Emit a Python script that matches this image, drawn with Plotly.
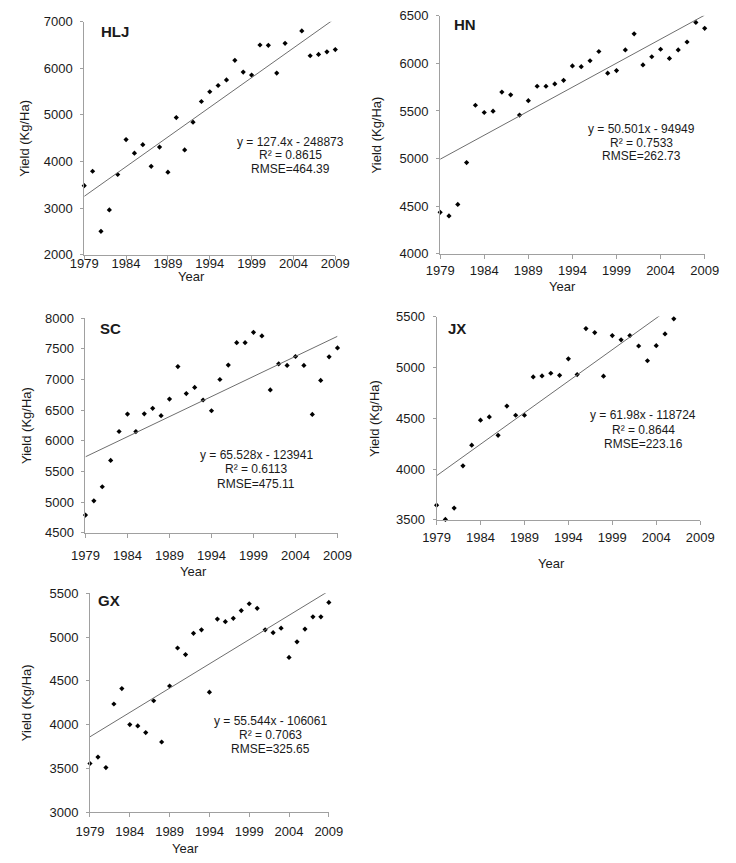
import plotly.graph_objects as go

W, H = 736, 863

years = list(range(1979, 2010))

hlj_years = [y for y in years if y != 2004]
hlj_yield = [3480, 3790, 2500, 2960, 3720, 4470, 4177, 4360, 3896, 4310, 3770, 4942, 4247, 4844,
             5287, 5497, 5631, 5750, 6171, 5919, 5855, 6501, 6494, 5897, 6537, 6803, 6270, 6298,
             6354, 6403]

hn_years = years
hn_yield = [4434, 4396, 4517, 4957, 5560, 5484, 5498, 5698, 5670, 5457, 5608, 5760, 5760, 5784,
            5822, 5973, 5966, 6028, 6125, 5897, 5925, 6142, 6311, 5984, 6070, 6149, 6052, 6142,
            6225, 6431, 6369]

sc_years = years
sc_yield = [4788, 5020, 5250, 5680, 6151, 6435, 6150, 6440, 6530, 6410, 6680, 7210, 6770, 6870,
            6665, 6490, 7000, 7235, 7600, 7600, 7770, 7710, 6830, 7255, 7230, 7375, 7230, 6430,
            6985, 7370, 7515]

jx_years = list(range(1979, 2007))
jx_yield = [3645, 3505, 3616, 4032, 4235, 4481, 4513, 4332, 4619, 4529, 4529, 4906, 4916, 4942,
            4922, 5084, 4929, 5381, 5342, 4913, 5313, 5271, 5313, 5210, 5065, 5213, 5329, 5477]

gx_years = years
gx_yield = [3555, 3629, 3509, 4235, 4411, 4000, 3984, 3909, 4272, 3801, 4441, 4875, 4800, 5043,
            5083, 4370, 5206, 5176, 5214, 5303, 5381, 5329, 5083, 5050, 5102, 4767, 4946, 5091,
            5232, 5232, 5396]

region_names = ["HLJ", "HN", "SC", "JX", "GX"]
slopes = [127.4, 50.501, 65.528, 61.98, 55.544]
intercepts = [-248873, -94949, -123941, -118724, -106061]
equations = ["y = 127.4x - 248873", "y = 50.501x - 94949", "y = 65.528x - 123941",
             "y = 61.98x - 118724", "y = 55.544x - 106061"]
r2_labels = ["R² = 0.8615", "R² = 0.7533", "R² = 0.6113", "R² = 0.8644", "R² = 0.7063"]
rmse_labels = ["RMSE=464.39", "RMSE=262.73", "RMSE=475.11", "RMSE=223.16", "RMSE=325.65"]
y_ranges = [(2000, 7000, 1000), (4000, 6500, 500), (4500, 8000, 500), (3500, 5500, 500),
            (3000, 5500, 500)]
x_ticks = list(range(1979, 2010, 5))

series = [(hlj_years, hlj_yield), (hn_years, hn_yield), (sc_years, sc_yield),
          (jx_years, jx_yield), (gx_years, gx_yield)]

# layout in pixels: left, right, top, bottom of plot area
boxes = [(73, 334, 15, 252), (443, 718, 9, 251), (74.3, 336.3, 316.7, 535),
         (439.3, 713.3, 315, 522), (79, 327.3, 596.7, 819.3)]
xlab_standoff = [-7, 1, 7, 1, 3]
eq_pos = [(287, [137, 151, 165]), (652, [124, 138, 152]), (252, [456, 470, 485]),
          (654, [415, 430, 445]), (267, [727, 741, 755])]
year_pos = [(185, 274), (570, 284), (187, 574), (559, 566), (178, 856)]
ylab_x = [11, 377, 13, 374, 13]
name_pos = [(105, 25), (469, 18), (100, 327), (460, 327), (99, 604)]

font_fam = "Liberation Sans, Arial, sans-serif"
txt_col = "#1a1a1a"
ax_col = "#a0a0a0"

fig = go.Figure()
annotations = []

def px(x):
    return x / W

def py(y):
    return 1 - y / H

for i in range(5):
    xs, ys = series[i]
    suffix = "" if i == 0 else str(i + 1)
    xa = "x" + suffix
    ya = "y" + suffix
    fig.add_trace(go.Scatter(x=xs, y=ys, mode="markers", xaxis=xa, yaxis=ya,
                             marker=dict(symbol="diamond", size=4, color="black"),
                             cliponaxis=False, showlegend=False))
    lx = [1979, 2009]
    ly = [slopes[i] * v + intercepts[i] for v in lx]
    fig.add_trace(go.Scatter(x=lx, y=ly, mode="lines", xaxis=xa, yaxis=ya,
                             line=dict(color="#6e6e6e", width=1), showlegend=False))
    l, r, t, b = boxes[i]
    y0, y1, dt = y_ranges[i]
    fig.layout["xaxis" + suffix] = dict(
        domain=[px(l), px(r)], anchor=ya, range=[1979, 2009], tickvals=x_ticks,
        showline=True, linecolor=ax_col, linewidth=1, ticks="outside", ticklen=4,
        tickcolor=ax_col, showgrid=False, zeroline=False,
        tickfont=dict(family=font_fam, size=13, color=txt_col),
        ticklabelstandoff=xlab_standoff[i])
    fig.layout["yaxis" + suffix] = dict(
        domain=[py(b), py(t)], anchor=xa, range=[y0, y1], dtick=dt, tick0=y0,
        showline=True, linecolor=ax_col, linewidth=1, ticks="outside", ticklen=3,
        tickcolor=ax_col, showgrid=False, zeroline=False,
        tickfont=dict(family=font_fam, size=13, color=txt_col),
        ticklabelstandoff=5)
    cx, lys = eq_pos[i]
    for txt, yy in zip([equations[i], r2_labels[i], rmse_labels[i]], lys):
        annotations.append(dict(x=px(cx), y=py(yy), xref="paper", yref="paper", text=txt,
                                showarrow=False, xanchor="center", yanchor="middle",
                                font=dict(family=font_fam, size=12, color=txt_col)))
    yx, yy = year_pos[i]
    annotations.append(dict(x=px(yx), y=py(yy), xref="paper", yref="paper", text="Year",
                            showarrow=False, xanchor="center", yanchor="middle",
                            font=dict(family=font_fam, size=13, color=txt_col)))
    annotations.append(dict(x=px(ylab_x[i]), y=py((t + b) / 2), xref="paper", yref="paper",
                            text="Yield (Kg/Ha)", textangle=-90, showarrow=False,
                            xanchor="center", yanchor="middle",
                            font=dict(family=font_fam, size=13, color=txt_col)))
    nx, ny = name_pos[i]
    annotations.append(dict(x=px(nx), y=py(ny), xref="paper", yref="paper",
                            text="<b>" + region_names[i] + "</b>", showarrow=False,
                            xanchor="center", yanchor="middle",
                            font=dict(family=font_fam, size=15, color=txt_col)))

fig.update_layout(width=W, height=H, margin=dict(l=0, r=0, t=0, b=0),
                  paper_bgcolor="white", plot_bgcolor="white",
                  annotations=annotations, showlegend=False)

fig.write_html("out.html", config={"displayModeBar": False},
               post_script="document.body.style.margin='0';document.body.style.overflow='hidden';")
